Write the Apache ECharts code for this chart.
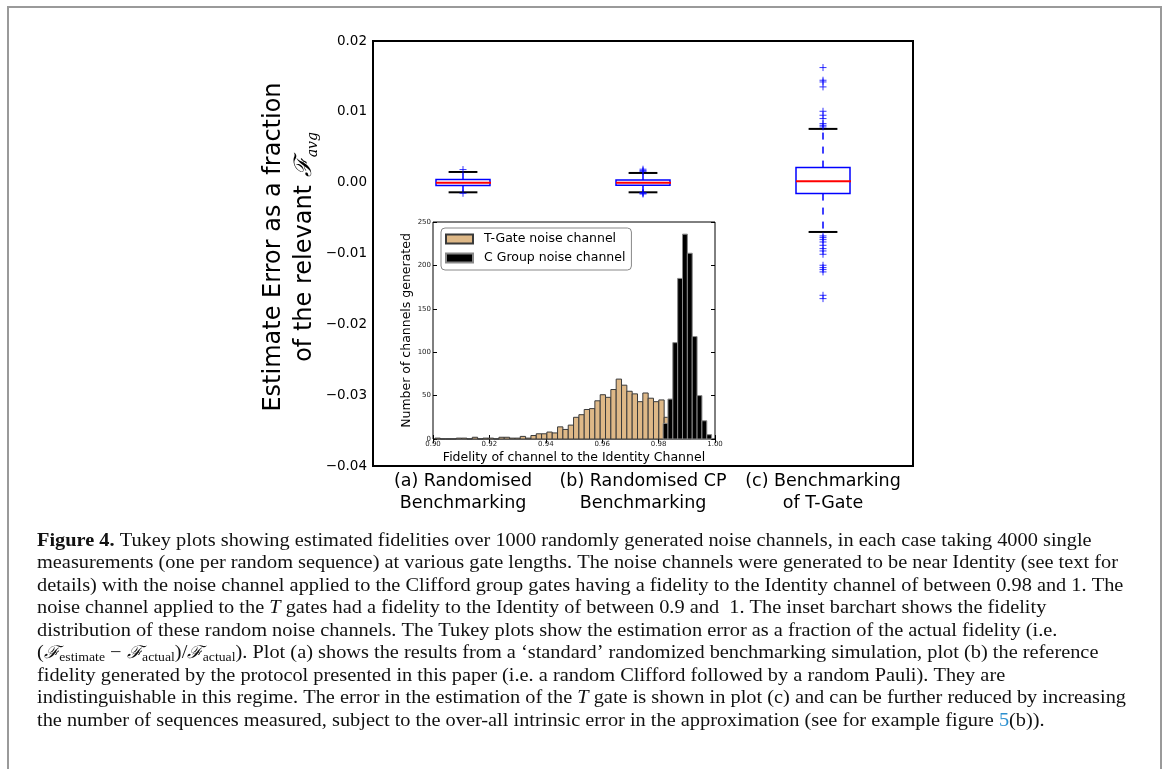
<!DOCTYPE html>
<html>
<head>
<meta charset="utf-8">
<script src="https://cdn.jsdelivr.net/npm/echarts@6/dist/echarts.min.js"></script>
<style>
  html, body { margin: 0; padding: 0; background: #fff; }
  #chart { width: 1168px; height: 769px; }
</style>
</head>
<body>
<div id="chart"></div>
<script>
// ---- Tukey plot data: estimate error as a fraction of F_avg ----
const categories = [
  '(a) Randomised\nBenchmarking',
  '(b) Randomised CP\nBenchmarking',
  '(c) Benchmarking\nof T-Gate'
];
// [lower whisker, Q1, median, Q3, upper whisker] for each protocol
const statsA = [-0.00136, -0.00041, 0.0000, 0.00044, 0.00151];
const statsB = [-0.00136, -0.00037, 0.0000, 0.00038, 0.00137];
const statsC = [-0.00696, -0.00154, 0.0002, 0.00213, 0.00759];
// outliers beyond the whiskers
const fliersA = [0.00185, -0.0015];
const fliersB = [0.0019, 0.0017, 0.0016, -0.0014, -0.0015, -0.0016];
const fliersC = [
  0.01625, 0.01446, 0.01422, 0.01352, 0.01008, 0.00952, 0.00905, 0.00834, 0.0081, 0.00787,
  -0.00752, -0.00776, -0.00804, -0.00837, -0.00884, -0.00931, -0.00964, -0.01011,
  -0.01166, -0.01199, -0.01227, -0.0126, -0.0159, -0.01637
];
const yMin = -0.04, yMax = 0.02, yStep = 0.01;

// ---- Inset histogram: fidelity of the random noise channels ----
const tGateBinStart = 0.9007, tGateBinWidth = 0.00189;
const tGateCounts = [
  1, 0, 0, 0, 1, 1, 0, 2, 0, 1, 1, 0, 2, 2, 1, 1, 3, 1, 4, 6, 6, 8, 7, 14,
  11, 16, 25, 28, 34, 35, 44, 51, 48, 57, 69, 62, 55, 52, 43, 53, 47, 43, 45, 25,
  30, 28, 22, 12
];
const cGroupBinStart = 0.9816, cGroupBinWidth = 0.00172;
const cGroupCounts = [18, 46, 111, 185, 236, 214, 118, 50, 21, 5];
const insetXMin = 0.90, insetXMax = 1.00, insetXStep = 0.02;
const insetYMin = 0, insetYMax = 250, insetYStep = 50;

// ---- Figure caption ----
const captionLines = [
  '{b|Figure 4.} Tukey plots showing estimated fidelities over 1000 randomly generated noise channels, in each case taking 4000 single',
  'measurements (one per random sequence) at various gate lengths. The noise channels were generated to be near Identity (see text for',
  'details) with the noise channel applied to the Clifford group gates having a fidelity to the Identity channel of between 0.98 and 1. The',
  'noise channel applied to the {i|T} gates had a fidelity to the Identity of between 0.9 and  1. The inset barchart shows the fidelity',
  'distribution of these random noise channels. The Tukey plots show the estimation error as a fraction of the actual fidelity (i.e.',
  '({m|\u2131}{s|estimate} \u2212 {m|\u2131}{s|actual})/{m|\u2131}{s|actual}). Plot (a) shows the results from a \u2018standard\u2019 randomized benchmarking simulation, plot (b) the reference',
  'fidelity generated by the protocol presented in this paper (i.e. a random Clifford followed by a random Pauli). They are',
  'indistinguishable in this regime. The error in the estimation of the {i|T} gate is shown in plot (c) and can be further reduced by increasing',
  'the number of sequences measured, subject to the over-all intrinsic error in the approximation (see for example figure {l|5}(b)).'
];

// ---------------------------------------------------------------
const SANS = 'DejaVu Sans';
const SERIF = 'Liberation Serif';
const BLUE = '#0000ff';
const TAN = '#deb887';
const CAPTION_SIZE = 18.5;

const boxData = [statsA, statsB, statsC].map((s, i) => [i].concat(s));
const flierData = []
  .concat(fliersA.map(v => [0, v]))
  .concat(fliersB.map(v => [1, v]))
  .concat(fliersC.map(v => [2, v]));
const tGateData = tGateCounts.map((n, k) => [
  tGateBinStart + k * tGateBinWidth, tGateBinStart + (k + 1) * tGateBinWidth, n
]);
const cGroupData = cGroupCounts.map((n, k) => [
  cGroupBinStart + k * cGroupBinWidth, cGroupBinStart + (k + 1) * cGroupBinWidth, n
]);

function fmtSigned(v) {
  if (Math.abs(v) < 1e-9) return '0.00';
  return (v < 0 ? '\u2212' : '') + Math.abs(v).toFixed(2);
}

// Tukey box: dashed whiskers, black caps, open box and red median line
function renderBox(params, api) {
  const i = api.value(0);
  const lo = api.value(1), q1 = api.value(2), md = api.value(3), q3 = api.value(4), hi = api.value(5);
  const band = api.size([1, 0])[0];
  const bw = band * 0.30, cw = band * 0.16;
  const x = api.coord([i, md])[0];
  const yLo = api.coord([i, lo])[1], yQ1 = api.coord([i, q1])[1];
  const yMd = api.coord([i, md])[1], yQ3 = api.coord([i, q3])[1];
  const yHi = api.coord([i, hi])[1];
  const whisker = { stroke: BLUE, lineWidth: 1.5, lineDash: [7, 7] };
  const cap = { stroke: '#000', lineWidth: 2 };
  return {
    type: 'group',
    children: [
      { type: 'line', shape: { x1: x, y1: yQ1, x2: x, y2: yLo }, style: whisker },
      { type: 'line', shape: { x1: x, y1: yQ3, x2: x, y2: yHi }, style: whisker },
      { type: 'line', shape: { x1: x - cw / 2, y1: yLo, x2: x + cw / 2, y2: yLo }, style: cap },
      { type: 'line', shape: { x1: x - cw / 2, y1: yHi, x2: x + cw / 2, y2: yHi }, style: cap },
      { type: 'rect', shape: { x: x - bw / 2, y: yQ3, width: bw, height: yQ1 - yQ3 },
        style: { fill: 'none', stroke: BLUE, lineWidth: 1.5 } },
      { type: 'line', shape: { x1: x - bw / 2, y1: yMd, x2: x + bw / 2 + 1, y2: yMd },
        style: { stroke: '#ff0000', lineWidth: 2 } }
    ]
  };
}

function binRenderer(fill, edge) {
  return function (params, api) {
    const p0 = api.coord([api.value(0), api.value(2)]);
    const p1 = api.coord([api.value(1), 0]);
    return {
      type: 'rect',
      shape: { x: p0[0], y: p0[1], width: p1[0] - p0[0], height: p1[1] - p0[1] },
      style: { fill: fill, stroke: edge, lineWidth: 1 }
    };
  };
}

const chart = echarts.init(document.getElementById('chart'));

const captionGraphics = captionLines.map((line, i) => ({
  type: 'text',
  x: 37,
  y: 541 + i * 22.5,
  scaleX: 1.1,
  style: {
    text: line,
    fill: '#111',
    fontFamily: SERIF,
    fontSize: CAPTION_SIZE,
    lineHeight: 22,
    verticalAlign: 'middle',
    rich: {
      b: { fontFamily: SERIF, fontWeight: 'bold', fontSize: CAPTION_SIZE, fill: '#111' },
      i: { fontFamily: SERIF, fontStyle: 'italic', fontSize: CAPTION_SIZE, fill: '#111' },
      m: { fontFamily: 'DejaVu Serif', fontStyle: 'italic', fontSize: CAPTION_SIZE - 1, fill: '#111' },
      s: { fontFamily: SERIF, fontSize: 12.5, fill: '#111', verticalAlign: 'bottom', lineHeight: 12 },
      l: { fontFamily: SERIF, fontSize: CAPTION_SIZE, fill: '#2b8fcf' }
    }
  }
}));

const option = {
  animation: false,
  backgroundColor: '#fff',
  textStyle: { fontFamily: SANS },
  graphic: [
    { type: 'rect', shape: { x: 8, y: 7, width: 1153, height: 800 },
      style: { fill: 'none', stroke: '#9a9a9a', lineWidth: 2 }, silent: true }
  ].concat(captionGraphics),
  legend: {
    orient: 'vertical',
    left: 441, top: 228,
    data: ['T-Gate noise channel', 'C Group noise channel'],
    icon: 'rect',
    itemWidth: 27, itemHeight: 9, itemGap: 5,
    padding: [4, 6, 5, 4],
    borderColor: '#888', borderWidth: 1, borderRadius: 4,
    backgroundColor: '#fff',
    selectedMode: false,
    textStyle: { fontFamily: SANS, fontSize: 12.5, color: '#000', lineHeight: 14, padding: [0, 0, 0, 6] }
  },
  grid: [
    { left: 373, top: 41, width: 540, height: 425, show: true,
      borderColor: '#000', borderWidth: 2, backgroundColor: 'rgba(0,0,0,0)' },
    { left: 433, top: 222, width: 282, height: 217, show: true,
      borderColor: '#000', borderWidth: 1, backgroundColor: '#fff' }
  ],
  xAxis: [
    { type: 'category', gridIndex: 0, position: 'bottom', data: categories,
      axisLine: { show: false },
      axisTick: { inside: true, alignWithLabel: true, interval: 0, length: 5, lineStyle: { color: '#000', width: 1.5 } },
      axisLabel: { interval: 0, hideOverlap: false, fontFamily: SANS, fontSize: 17.5, lineHeight: 22, color: '#000', margin: 4 } },
    { type: 'category', gridIndex: 0, position: 'top', data: categories,
      axisLine: { show: false },
      axisTick: { inside: true, alignWithLabel: true, interval: 0, length: 5, lineStyle: { color: '#000', width: 1.5 } },
      axisLabel: { show: false } },
    { type: 'value', gridIndex: 1, position: 'bottom',
      min: insetXMin, max: insetXMax, interval: insetXStep,
      name: 'Fidelity of channel to the Identity Channel', nameLocation: 'middle', nameGap: 12,
      nameTextStyle: { fontFamily: SANS, fontSize: 12.5, color: '#000' },
      axisLine: { show: false }, splitLine: { show: false },
      axisTick: { inside: true, length: 4, lineStyle: { color: '#000' } },
      axisLabel: { fontFamily: SANS, fontSize: 7, color: '#222', margin: 2,
        formatter: v => v.toFixed(2) } },
    { type: 'value', gridIndex: 1, position: 'top',
      min: insetXMin, max: insetXMax, interval: insetXStep,
      axisLine: { show: false }, splitLine: { show: false },
      axisTick: { inside: true, length: 4, lineStyle: { color: '#000' } },
      axisLabel: { show: false } }
  ],
  yAxis: [
    { type: 'value', gridIndex: 0, position: 'left',
      min: yMin, max: yMax, interval: yStep,
      name: 'Estimate Error as a fraction\nof the relevant {f|\u2131}{s|avg}',
      nameLocation: 'middle', nameGap: 53,
      nameTextStyle: {
        fontFamily: SANS, fontSize: 24, lineHeight: 31, color: '#000', padding: [0, 0, 0, 13],
        rich: {
          f: { fontFamily: 'DejaVu Serif', fontStyle: 'italic', fontSize: 24, lineHeight: 31, color: '#000' },
          s: { fontFamily: 'DejaVu Serif', fontStyle: 'italic', fontSize: 14, lineHeight: 14, color: '#000', verticalAlign: 'bottom' }
        }
      },
      axisLine: { show: false }, splitLine: { show: false },
      axisTick: { inside: true, length: 6, lineStyle: { color: '#000', width: 1.5 } },
      axisLabel: { fontFamily: SANS, fontSize: 13.5, color: '#000', margin: 6, formatter: fmtSigned } },
    { type: 'value', gridIndex: 0, position: 'right',
      min: yMin, max: yMax, interval: yStep,
      axisLine: { show: false }, splitLine: { show: false },
      axisTick: { inside: true, length: 6, lineStyle: { color: '#000', width: 1.5 } },
      axisLabel: { show: false } },
    { type: 'value', gridIndex: 1, position: 'left',
      min: insetYMin, max: insetYMax, interval: insetYStep,
      name: 'Number of channels generated', nameLocation: 'middle', nameGap: 18,
      nameTextStyle: { fontFamily: SANS, fontSize: 12.5, color: '#000' },
      axisLine: { show: false }, splitLine: { show: false },
      axisTick: { inside: true, length: 4, lineStyle: { color: '#000' } },
      axisLabel: { fontFamily: SANS, fontSize: 7, color: '#222', margin: 2 } },
    { type: 'value', gridIndex: 1, position: 'right',
      min: insetYMin, max: insetYMax, interval: insetYStep,
      axisLine: { show: false }, splitLine: { show: false },
      axisTick: { inside: true, length: 4, lineStyle: { color: '#000' } },
      axisLabel: { show: false } }
  ],
  series: [
    { name: 'Tukey', type: 'custom', xAxisIndex: 0, yAxisIndex: 0,
      renderItem: renderBox, data: boxData, z: 3 },
    { name: 'Outliers', type: 'scatter', xAxisIndex: 0, yAxisIndex: 0,
      data: flierData, symbol: 'path://M5,0 L5,10 M0,5 L10,5', symbolSize: 7,
      itemStyle: { color: 'none', borderColor: BLUE, borderWidth: 1 }, z: 4 },
    { name: 'T-Gate noise channel', type: 'custom', xAxisIndex: 2, yAxisIndex: 2,
      renderItem: binRenderer(TAN, '#3a3a3a'), data: tGateData,
      itemStyle: { color: TAN, borderColor: '#3a3a3a', borderWidth: 1 }, z: 3 },
    { name: 'C Group noise channel', type: 'custom', xAxisIndex: 2, yAxisIndex: 2,
      renderItem: binRenderer('#000', '#888'), data: cGroupData,
      itemStyle: { color: '#000', borderColor: '#888', borderWidth: 1 }, z: 4 }
  ]
};

chart.setOption(option);
</script>
</body>
</html>
